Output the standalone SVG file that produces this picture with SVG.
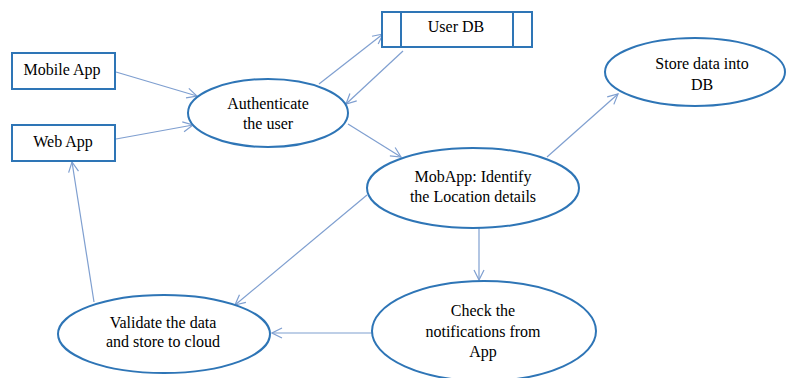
<svg xmlns="http://www.w3.org/2000/svg" width="787" height="378" viewBox="0 0 787 378">
<style>
.n{fill:#fff;stroke:#2E75B6;stroke-width:2}
.t{font-family:"Liberation Serif","DejaVu Serif",serif;font-size:16px;fill:#000;text-anchor:middle}
.c line{stroke:#7F9FD0;stroke-width:1.2;fill:none;marker-end:url(#a)}
</style>
<defs>
<marker id="a" viewBox="0 0 12 12" refX="11" refY="6" markerWidth="12" markerHeight="12" markerUnits="userSpaceOnUse" orient="auto">
<path d="M1,1 L11,6 L1,11" fill="none" stroke="#7F9FD0" stroke-width="1.2"/>
</marker>
</defs>
<rect width="787" height="378" fill="#fff"/>
<g class="c" id="connectors">
<line x1="116" y1="72" x2="197" y2="96"/>
<line x1="116" y1="139" x2="193" y2="125"/>
<line x1="319" y1="84" x2="383" y2="34"/>
<line x1="403" y1="51" x2="346" y2="104"/>
<line x1="348" y1="124" x2="401" y2="157"/>
<line x1="547" y1="157" x2="618" y2="94"/>
<line x1="367" y1="195" x2="235" y2="305"/>
<line x1="479" y1="228" x2="479" y2="280"/>
<line x1="372" y1="333" x2="272" y2="333"/>
<line x1="94" y1="302" x2="72" y2="162"/>
</g>
<g id="mobile-app">
<rect class="n" x="12" y="53" width="103" height="36"/>
<text class="t" x="62" y="75">Mobile App</text>
</g>
<g id="web-app">
<rect class="n" x="12" y="125" width="103" height="36"/>
<text class="t" x="63" y="147">Web App</text>
</g>
<g id="authenticate">
<ellipse class="n" cx="268" cy="113" rx="80" ry="34"/>
<text class="t" x="268" y="109">Authenticate</text>
<text class="t" x="268" y="129">the user</text>
</g>
<g id="user-db">
<rect class="n" x="382" y="12" width="150" height="35"/>
<line x1="401" y1="12" x2="401" y2="47" stroke="#2E75B6" stroke-width="2"/>
<line x1="513" y1="12" x2="513" y2="47" stroke="#2E75B6" stroke-width="2"/>
<text class="t" x="456" y="32">User DB</text>
</g>
<g id="store-data">
<ellipse class="n" cx="695" cy="72" rx="90" ry="34"/>
<text class="t" x="702" y="69">Store data into</text>
<text class="t" x="702" y="90">DB</text>
</g>
<g id="mobapp">
<ellipse class="n" cx="473" cy="188" rx="106" ry="40"/>
<text class="t" x="473" y="182">MobApp: Identify</text>
<text class="t" x="473" y="202">the Location details</text>
</g>
<g id="check">
<ellipse class="n" cx="484" cy="331" rx="112" ry="50"/>
<text class="t" x="483" y="316">Check the</text>
<text class="t" x="483" y="337">notifications from</text>
<text class="t" x="483" y="357">App</text>
</g>
<g id="validate">
<ellipse class="n" cx="164" cy="334" rx="106" ry="39"/>
<text class="t" x="163" y="328">Validate the data</text>
<text class="t" x="163" y="347">and store to cloud</text>
</g>
</svg>
